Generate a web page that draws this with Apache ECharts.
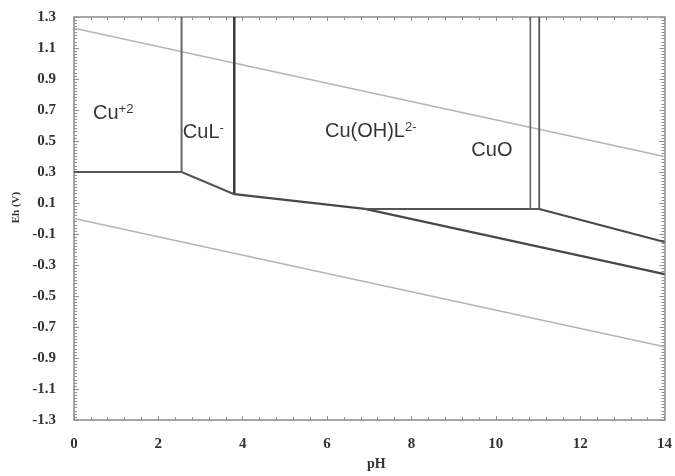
<!DOCTYPE html>
<html>
<head>
<meta charset="utf-8">
<script src="https://cdn.jsdelivr.net/npm/echarts@6/dist/echarts.min.js"></script>
<style>
  html, body { margin: 0; padding: 0; background: #fff; }
  #chart { width: 675px; height: 476px; }
</style>
</head>
<body>
<div id="chart"></div>
<script>
// Eh–pH predominance diagram for the Cu–L–H2O system

// Axis ranges and tick settings
const phRange = [0, 14];
const ehRange = [-1.3, 1.3];
const phStep = 2;
const ehStep = 0.2;

// Water stability limits (O2/H2O above, H2O/H2 below)
const waterUpper = [[0, 1.228], [14, 0.400]];
const waterLower = [[0, 0.000], [14, -0.827]];

// Field boundaries, as [pH, Eh] vertices
const cu2Floor = [[0, 0.300], [2.55, 0.300]];
const cu2CuL = [[2.55, 1.300], [2.55, 0.300]];
const cuLFloor = [[2.55, 0.300], [3.80, 0.157]];
const cuLCuOHL = [[3.80, 1.300], [3.80, 0.157]];
const metalLine = [[3.80, 0.157], [6.90, 0.062], [14, -0.358]];
const cuOHLFloor = [[6.90, 0.062], [11.03, 0.062]];
const cuOLeft = [[10.82, 1.300], [10.82, 0.062]];
const cuORight = [[11.03, 1.300], [11.03, 0.062]];
const cuOFloor = [[11.03, 0.062], [14, -0.151]];

// Species names and where each one is written [pH, Eh]
const speciesNames = ['Cu{sup|+2}', 'CuL{sup|-}', 'Cu(OH)L{sup|2-}', 'CuO'];
const speciesAnchors = [[0.45, 0.675], [2.58, 0.555], [5.95, 0.560], [9.42, 0.437]];

const chart = echarts.init(document.getElementById('chart'));

const frameColor = '#8c8c8c';
const tickFont = { fontFamily: 'Liberation Serif', fontWeight: 'bold', fontSize: 15, color: '#333' };

function boundary(points, color, width) {
  return {
    type: 'line',
    data: points,
    symbol: 'none',
    silent: true,
    lineStyle: { color: color, width: width },
    z: 3
  };
}

function xAxisDef(position, showLabels) {
  return {
    type: 'value',
    position: position,
    min: phRange[0],
    max: phRange[1],
    interval: phStep,
    axisLine: { show: true, onZero: false, lineStyle: { color: frameColor, width: 1.5 } },
    axisTick: { show: true, inside: true, length: 4, lineStyle: { color: frameColor } },
    minorTick: { show: true, splitNumber: 5, length: 3, lineStyle: { color: frameColor } },
    splitLine: { show: false },
    axisLabel: Object.assign({ show: showLabels, margin: 17 }, tickFont),
    name: showLabels ? 'pH' : '',
    nameLocation: 'middle',
    nameGap: 26,
    nameTextStyle: { fontFamily: 'Liberation Serif', fontWeight: 'bold', fontSize: 14, color: '#333', padding: [0, 0, 0, 14] }
  };
}

function yAxisDef(position, showLabels) {
  return {
    type: 'value',
    position: position,
    min: ehRange[0],
    max: ehRange[1],
    interval: ehStep,
    axisLine: { show: true, onZero: false, lineStyle: { color: frameColor, width: 1.5 } },
    axisTick: { show: true, inside: true, length: 5, lineStyle: { color: frameColor } },
    minorTick: { show: true, splitNumber: 10, length: 3, lineStyle: { color: frameColor } },
    splitLine: { show: false },
    axisLabel: Object.assign({
      show: showLabels,
      margin: 18,
      formatter: v => v.toFixed(1)
    }, tickFont),
    name: showLabels ? 'Eh (V)' : '',
    nameLocation: 'middle',
    nameGap: 52,
    nameTextStyle: { fontFamily: 'Liberation Serif', fontWeight: 'bold', fontSize: 11, color: '#333', padding: [0, 0, 0, 22] }
  };
}

const boundaryColor = '#555';
const waterColor = '#b5b5b5';

chart.setOption({
  animation: false,
  backgroundColor: '#fff',
  grid: { left: 74, right: 10, top: 17, bottom: 41 },
  xAxis: [xAxisDef('bottom', true), xAxisDef('top', false)],
  yAxis: [yAxisDef('left', true), yAxisDef('right', false)],
  series: [
    boundary(waterUpper, waterColor, 1.5),
    boundary(waterLower, waterColor, 1.5),
    boundary(cu2Floor, boundaryColor, 2),
    boundary(cu2CuL, '#666', 2),
    boundary(cuLFloor, boundaryColor, 2),
    boundary(cuLCuOHL, '#3a3a3a', 2.5),
    boundary(metalLine, '#484848', 2.2),
    boundary(cuOHLFloor, boundaryColor, 2),
    boundary(cuOLeft, '#666', 1.6),
    boundary(cuORight, '#555', 1.8),
    boundary(cuOFloor, '#484848', 2),
    {
      type: 'scatter',
      silent: true,
      symbolSize: 0,
      data: speciesAnchors.map((p, i) => ({ value: p, name: speciesNames[i] })),
      label: {
        show: true,
        position: 'right',
        distance: 0,
        formatter: p => p.name,
        rich: {
          sup: { fontFamily: 'Liberation Sans', fontSize: 13, color: '#000', verticalAlign: 'top', padding: [0, 0, 9, 0] }
        },
        fontFamily: 'Liberation Sans',
        fontSize: 20,
        color: '#000'
      },
      z: 5
    }
  ]
});
</script>
</body>
</html>
